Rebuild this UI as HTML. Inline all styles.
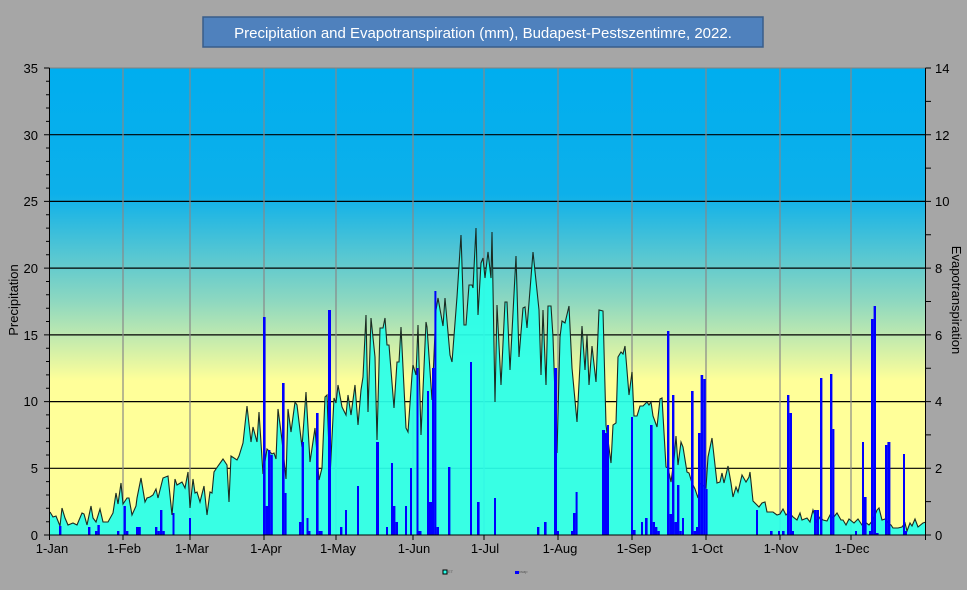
<!DOCTYPE html>
<html><head><meta charset="utf-8"><style>
body{margin:0;background:#a6a6a6;width:967px;height:590px;overflow:hidden;font-family:"Liberation Sans",sans-serif}
</style></head><body>
<svg width="967" height="590" xmlns="http://www.w3.org/2000/svg" style="position:absolute;left:0;top:0">
<defs>
<linearGradient id="bg" x1="0" y1="0" x2="0" y2="1">
<stop offset="0" stop-color="#00aeef"/><stop offset="0.27" stop-color="#0db0ea"/>
<stop offset="0.5" stop-color="#8ed8c0"/><stop offset="0.67" stop-color="#ffff99"/><stop offset="1" stop-color="#ffff99"/>
</linearGradient>
</defs>
<rect x="0" y="0" width="967" height="590" fill="#a6a6a6"/>
<rect x="203" y="17" width="560" height="30" fill="#4f81bd" stroke="#385d8a" stroke-width="1.5"/>
<text x="483" y="38" font-size="15" fill="#fff" text-anchor="middle">Precipitation and Evapotranspiration (mm), Budapest-Pestszentimre,  2022.</text>
<rect x="49.5" y="68" width="876" height="467" fill="url(#bg)"/>
<g stroke="#000" stroke-width="1.2">
<line x1="49.5" x2="925.5" y1="468.3" y2="468.3"/><line x1="49.5" x2="925.5" y1="401.6" y2="401.6"/>
<line x1="49.5" x2="925.5" y1="334.9" y2="334.9"/><line x1="49.5" x2="925.5" y1="268.1" y2="268.1"/>
<line x1="49.5" x2="925.5" y1="201.4" y2="201.4"/><line x1="49.5" x2="925.5" y1="134.7" y2="134.7"/>
</g>
<g stroke="#888" stroke-width="1.2">
<line x1="123" x2="123" y1="68" y2="535"/><line x1="190" x2="190" y1="68" y2="535"/>
<line x1="264" x2="264" y1="68" y2="535"/><line x1="336" x2="336" y1="68" y2="535"/>
<line x1="413" x2="413" y1="68" y2="535"/><line x1="484" x2="484" y1="68" y2="535"/>
<line x1="558" x2="558" y1="68" y2="535"/><line x1="632" x2="632" y1="68" y2="535"/>
<line x1="706" x2="706" y1="68" y2="535"/><line x1="780" x2="780" y1="68" y2="535"/>
<line x1="851" x2="851" y1="68" y2="535"/>
</g>
<polygon fill="#29ffea" fill-opacity="0.93" stroke="none" points="50,535 50,512 53,517 56,516 60,526 62,508 65,518 68,525 73,523 77,525 82,513 84,514 87,525 91,506 93,518 96,522 100,509 103,522 108,522 113,513 116,493 118,504 121,483 123,504 127,498 129,498 132,515 136,506 137,498 141,478 145,502 147,498 150,497 153,495 156,489 158,498 163,478 168,476 172,515 175,479 177,485 182,482 185,488 188,472 190,508 193,479 195,493 197,492 200,502 204,486 207,515 210,492 212,493 214,472 218,466 223,459 227,465 229,502 231,456 237,460 239,456 243,443 247,406 251,442 253,427 257,442 259,412 263,474 267,449 272,454 274,453 276,459 278,409 282,440 286,479 288,409 291,432 295,402 297,405 302,447 306,392 310,462 315,428 319,480 322,468 325,397 327,395 330,477 334,398 336,403 338,385 342,407 346,415 348,395 351,415 355,385 358,425 361,390 363,377 366,315 368,412 371,318 375,357 377,440 380,328 383,328 385,318 387,345 389,345 394,408 397,362 399,362 401,327 406,428 408,432 412,375 413,365 416,375 418,325 421,435 426,322 427,327 432,400 436,310 438,298 443,326 445,298 450,355 452,362 457,297 461,235 464,325 466,325 469,285 472,285 473,288 476,228 478,315 481,263 483,258 485,278 488,252 491,278 492,232 495,402 497,305 501,385 505,302 507,302 510,370 516,256 519,357 523,308 525,307 527,328 533,252 539,310 541,375 543,310 546,385 548,306 551,306 553,337 557,453 560,337 562,321 565,323 569,306 572,368 577,422 582,326 585,370 587,335 589,385 592,346 596,382 599,310 603,311 606,425 611,463 613,425 616,423 618,357 621,352 623,354 625,346 629,395 632,372 634,416 637,416 640,406 643,406 647,402 649,405 651,402 653,416 657,427 660,399 662,398 666,467 668,468 671,482 674,460 676,436 678,465 681,442 683,447 687,472 689,473 692,483 695,489 698,498 700,483 706,488 708,457 712,438 715,465 717,483 720,482 722,473 724,483 728,466 731,483 733,497 736,487 738,492 742,475 746,482 749,477 750,472 753,501 759,507 762,503 765,502 767,512 773,512 777,515 780,514 783,509 786,515 789,512 793,517 797,520 800,513 802,520 807,518 810,522 813,510 817,522 820,517 823,520 827,521 830,515 833,518 837,513 841,520 843,520 846,525 849,519 854,523 858,519 862,525 865,522 869,525 873,520 877,510 879,508 882,520 885,519 888,523 891,525 893,528 898,528 902,527 905,523 907,531 910,523 912,526 915,519 918,527 923,523 926,522 926,535"/>
<polyline fill="none" stroke="#1a2a22" stroke-width="1.1" points="50,512 53,517 56,516 60,526 62,508 65,518 68,525 73,523 77,525 82,513 84,514 87,525 91,506 93,518 96,522 100,509 103,522 108,522 113,513 116,493 118,504 121,483 123,504 127,498 129,498 132,515 136,506 137,498 141,478 145,502 147,498 150,497 153,495 156,489 158,498 163,478 168,476 172,515 175,479 177,485 182,482 185,488 188,472 190,508 193,479 195,493 197,492 200,502 204,486 207,515 210,492 212,493 214,472 218,466 223,459 227,465 229,502 231,456 237,460 239,456 243,443 247,406 251,442 253,427 257,442 259,412 263,474 267,449 272,454 274,453 276,459 278,409 282,440 286,479 288,409 291,432 295,402 297,405 302,447 306,392 310,462 315,428 319,480 322,468 325,397 327,395 330,477 334,398 336,403 338,385 342,407 346,415 348,395 351,415 355,385 358,425 361,390 363,377 366,315 368,412 371,318 375,357 377,440 380,328 383,328 385,318 387,345 389,345 394,408 397,362 399,362 401,327 406,428 408,432 412,375 413,365 416,375 418,325 421,435 426,322 427,327 432,400 436,310 438,298 443,326 445,298 450,355 452,362 457,297 461,235 464,325 466,325 469,285 472,285 473,288 476,228 478,315 481,263 483,258 485,278 488,252 491,278 492,232 495,402 497,305 501,385 505,302 507,302 510,370 516,256 519,357 523,308 525,307 527,328 533,252 539,310 541,375 543,310 546,385 548,306 551,306 553,337 557,453 560,337 562,321 565,323 569,306 572,368 577,422 582,326 585,370 587,335 589,385 592,346 596,382 599,310 603,311 606,425 611,463 613,425 616,423 618,357 621,352 623,354 625,346 629,395 632,372 634,416 637,416 640,406 643,406 647,402 649,405 651,402 653,416 657,427 660,399 662,398 666,467 668,468 671,482 674,460 676,436 678,465 681,442 683,447 687,472 689,473 692,483 695,489 698,498 700,483 706,488 708,457 712,438 715,465 717,483 720,482 722,473 724,483 728,466 731,483 733,497 736,487 738,492 742,475 746,482 749,477 750,472 753,501 759,507 762,503 765,502 767,512 773,512 777,515 780,514 783,509 786,515 789,512 793,517 797,520 800,513 802,520 807,518 810,522 813,510 817,522 820,517 823,520 827,521 830,515 833,518 837,513 841,520 843,520 846,525 849,519 854,523 858,519 862,525 865,522 869,525 873,520 877,510 879,508 882,520 885,519 888,523 891,525 893,528 898,528 902,527 905,523 907,531 910,523 912,526 915,519 918,527 923,523 926,522"/>
<g fill="#0000ff">
<rect x="59" y="526" width="2.4" height="9"/><rect x="88" y="527" width="2.4" height="8"/>
<rect x="95" y="531" width="2.4" height="4"/><rect x="97.4" y="525" width="2.4" height="10"/>
<rect x="117" y="531" width="2.4" height="4"/><rect x="123.5" y="506" width="2.4" height="29"/><rect x="126" y="531" width="2.4" height="4"/>
<rect x="136" y="527" width="4.8" height="8"/><rect x="155" y="527" width="2.4" height="8"/><rect x="157.5" y="531" width="2.4" height="4"/>
<rect x="160" y="510" width="2.4" height="25"/><rect x="162.4" y="531" width="2.4" height="4"/>
<rect x="172.5" y="513" width="2" height="22"/><rect x="189" y="518" width="2" height="17"/>
<rect x="263" y="317" width="2.6" height="218"/><rect x="265.6" y="506" width="2.4" height="29"/>
<rect x="268" y="450" width="2.4" height="85"/><rect x="270.4" y="455" width="2.4" height="80"/>
<rect x="282" y="383" width="2.6" height="152"/><rect x="284.6" y="493" width="2" height="42"/>
<rect x="299" y="522" width="2.6" height="13"/><rect x="301.6" y="442" width="2.4" height="93"/>
<rect x="306.5" y="518" width="2" height="17"/><rect x="308.5" y="531" width="2" height="4"/>
<rect x="316" y="413" width="2.6" height="122"/><rect x="318.6" y="531" width="4" height="4"/>
<rect x="328" y="310" width="3" height="225"/><rect x="340" y="527" width="2.4" height="8"/>
<rect x="345" y="510" width="2" height="25"/><rect x="357" y="486" width="2" height="49"/>
<rect x="376" y="442" width="3" height="93"/><rect x="386" y="527" width="2" height="8"/>
<rect x="391" y="463" width="2" height="72"/><rect x="393" y="506" width="2.4" height="29"/><rect x="395.4" y="522" width="2.6" height="13"/>
<rect x="405" y="506" width="2" height="29"/><rect x="410" y="468" width="2" height="67"/>
<rect x="416.5" y="368" width="2" height="167"/><rect x="418.5" y="531" width="3" height="4"/>
<rect x="427" y="391" width="2" height="144"/><rect x="429" y="502" width="3" height="33"/>
<rect x="432" y="368" width="2.4" height="167"/><rect x="434.4" y="291" width="2" height="244"/><rect x="436.4" y="527" width="2.6" height="8"/>
<rect x="448" y="467" width="2.4" height="68"/><rect x="470" y="362" width="2" height="173"/>
<rect x="477" y="502" width="2.6" height="33"/><rect x="494" y="498" width="2" height="37"/>
<rect x="537" y="527" width="2.4" height="8"/><rect x="544" y="522" width="2.6" height="13"/>
<rect x="554" y="368" width="3" height="167"/><rect x="557" y="531" width="2" height="4"/>
<rect x="571" y="531" width="2" height="4"/><rect x="573" y="513" width="2.6" height="22"/><rect x="575.6" y="492" width="2" height="43"/>
<rect x="602" y="430" width="3" height="105"/><rect x="605" y="433" width="2" height="102"/><rect x="607" y="425" width="2" height="110"/>
<rect x="631" y="417" width="2" height="118"/><rect x="633" y="530" width="2.6" height="5"/>
<rect x="641" y="522" width="2" height="13"/><rect x="645" y="518" width="2.6" height="17"/>
<rect x="650" y="425" width="2.6" height="110"/><rect x="652.6" y="522" width="2.4" height="13"/><rect x="655" y="527" width="2.4" height="8"/><rect x="657.4" y="531" width="2.4" height="4"/>
<rect x="667" y="331" width="2.4" height="204"/><rect x="669.4" y="514" width="2.6" height="21"/>
<rect x="672" y="395" width="2.4" height="140"/><rect x="674.4" y="522" width="2.6" height="13"/>
<rect x="677" y="485" width="2.4" height="50"/><rect x="679.4" y="531" width="2.4" height="4"/><rect x="682" y="518" width="2" height="17"/>
<rect x="691" y="391" width="2.6" height="144"/><rect x="693.6" y="531" width="2.4" height="4"/>
<rect x="696" y="527" width="2" height="8"/><rect x="698" y="433" width="2.6" height="102"/>
<rect x="700.6" y="375" width="2.6" height="160"/><rect x="703.2" y="379" width="2.6" height="156"/><rect x="705.8" y="489" width="1.8" height="46"/>
<rect x="756" y="510" width="2" height="25"/><rect x="770" y="531" width="2.6" height="4"/>
<rect x="778" y="531" width="2" height="4"/><rect x="782" y="531" width="2.6" height="4"/>
<rect x="787" y="395" width="2.4" height="140"/><rect x="789.4" y="413" width="2.6" height="122"/><rect x="792" y="531" width="2" height="4"/>
<rect x="814" y="510" width="2.6" height="25"/><rect x="816.6" y="510" width="2.4" height="25"/>
<rect x="820" y="378" width="2.4" height="157"/><rect x="830" y="374" width="2.4" height="161"/><rect x="832.4" y="429" width="2" height="106"/>
<rect x="855" y="531" width="2" height="4"/><rect x="862" y="442" width="2" height="93"/><rect x="864" y="497" width="2.6" height="38"/>
<rect x="869" y="531" width="2" height="4"/><rect x="871" y="319" width="2.6" height="216"/><rect x="873.6" y="306" width="2.4" height="229"/><rect x="876" y="533" width="2.6" height="2"/>
<rect x="885" y="445" width="2.4" height="90"/><rect x="887.4" y="442" width="3" height="93"/>
<rect x="903" y="454" width="2" height="81"/><rect x="905" y="531" width="2" height="4"/>
</g>
<rect x="49.5" y="68" width="876" height="467" fill="none" stroke="#808080" stroke-width="1"/>
<g stroke="#000" stroke-width="1">
<line x1="49.5" y1="68" x2="49.5" y2="535"/><line x1="49.5" y1="535" x2="925.5" y2="535"/><line x1="925.5" y1="68" x2="925.5" y2="535"/>
<path d="M44 535H49.5M44 468.3H49.5M44 401.6H49.5M44 334.9H49.5M44 268.1H49.5M44 201.4H49.5M44 134.7H49.5M44 68H49.5"/>
<path d="M46 521.7H49.5M46 508.3H49.5M46 495H49.5M46 481.6H49.5M46 455H49.5M46 441.6H49.5M46 428.3H49.5M46 414.9H49.5M46 388.2H49.5M46 374.9H49.5M46 361.5H49.5M46 348.2H49.5M46 321.5H49.5M46 308.2H49.5M46 294.8H49.5M46 281.5H49.5M46 254.8H49.5M46 241.4H49.5M46 228.1H49.5M46 214.8H49.5M46 188.1H49.5M46 174.7H49.5M46 161.4H49.5M46 148H49.5M46 121.4H49.5M46 108H49.5M46 94.7H49.5M46 81.3H49.5"/>
<path d="M925.5 535H931M925.5 501.6H931M925.5 468.3H931M925.5 434.9H931M925.5 401.6H931M925.5 368.2H931M925.5 334.9H931M925.5 301.5H931M925.5 268.1H931M925.5 234.8H931M925.5 201.4H931M925.5 168.1H931M925.5 134.7H931M925.5 101.4H931M925.5 68H931"/>
<path d="M49.5 535V540M123 535V540M190 535V540M264 535V540M336 535V540M413 535V540M484 535V540M558 535V540M632 535V540M706 535V540M780 535V540M851 535V540M925.5 535V540"/>
</g>
<g font-size="13" fill="#000" text-anchor="end">
<text x="38" y="540">0</text><text x="38" y="473">5</text><text x="38" y="406">10</text><text x="38" y="340">15</text>
<text x="38" y="273">20</text><text x="38" y="206">25</text><text x="38" y="140">30</text><text x="38" y="73">35</text>
</g>
<g font-size="13" fill="#000" text-anchor="start">
<text x="935" y="540">0</text><text x="935" y="473">2</text><text x="935" y="406">4</text><text x="935" y="340">6</text>
<text x="935" y="273">8</text><text x="935" y="206">10</text><text x="935" y="140">12</text><text x="935" y="73">14</text>
</g>
<g font-size="13" fill="#000" text-anchor="middle">
<text x="52" y="553">1-Jan</text><text x="124" y="553">1-Feb</text><text x="192" y="553">1-Mar</text><text x="266" y="553">1-Apr</text>
<text x="338" y="553">1-May</text><text x="414" y="553">1-Jun</text><text x="485" y="553">1-Jul</text><text x="560" y="553">1-Aug</text>
<text x="634" y="553">1-Sep</text><text x="707" y="553">1-Oct</text><text x="781" y="553">1-Nov</text><text x="852" y="553">1-Dec</text>
</g>
<text transform="translate(18,300) rotate(-90)" font-size="13" fill="#000" text-anchor="middle">Precipitation</text>
<text transform="translate(952,300) rotate(90)" font-size="13" fill="#000" text-anchor="middle">Evapotranspiration</text>
<rect x="443" y="570" width="4" height="4" fill="#29ffea" stroke="#000" stroke-width="1"/>
<text x="448" y="573" font-size="4" fill="#555">ET</text>
<rect x="515" y="571" width="4" height="3" fill="#0000ff"/>
<text x="519" y="573" font-size="4" fill="#555">csap</text>
</svg>
</body></html>
